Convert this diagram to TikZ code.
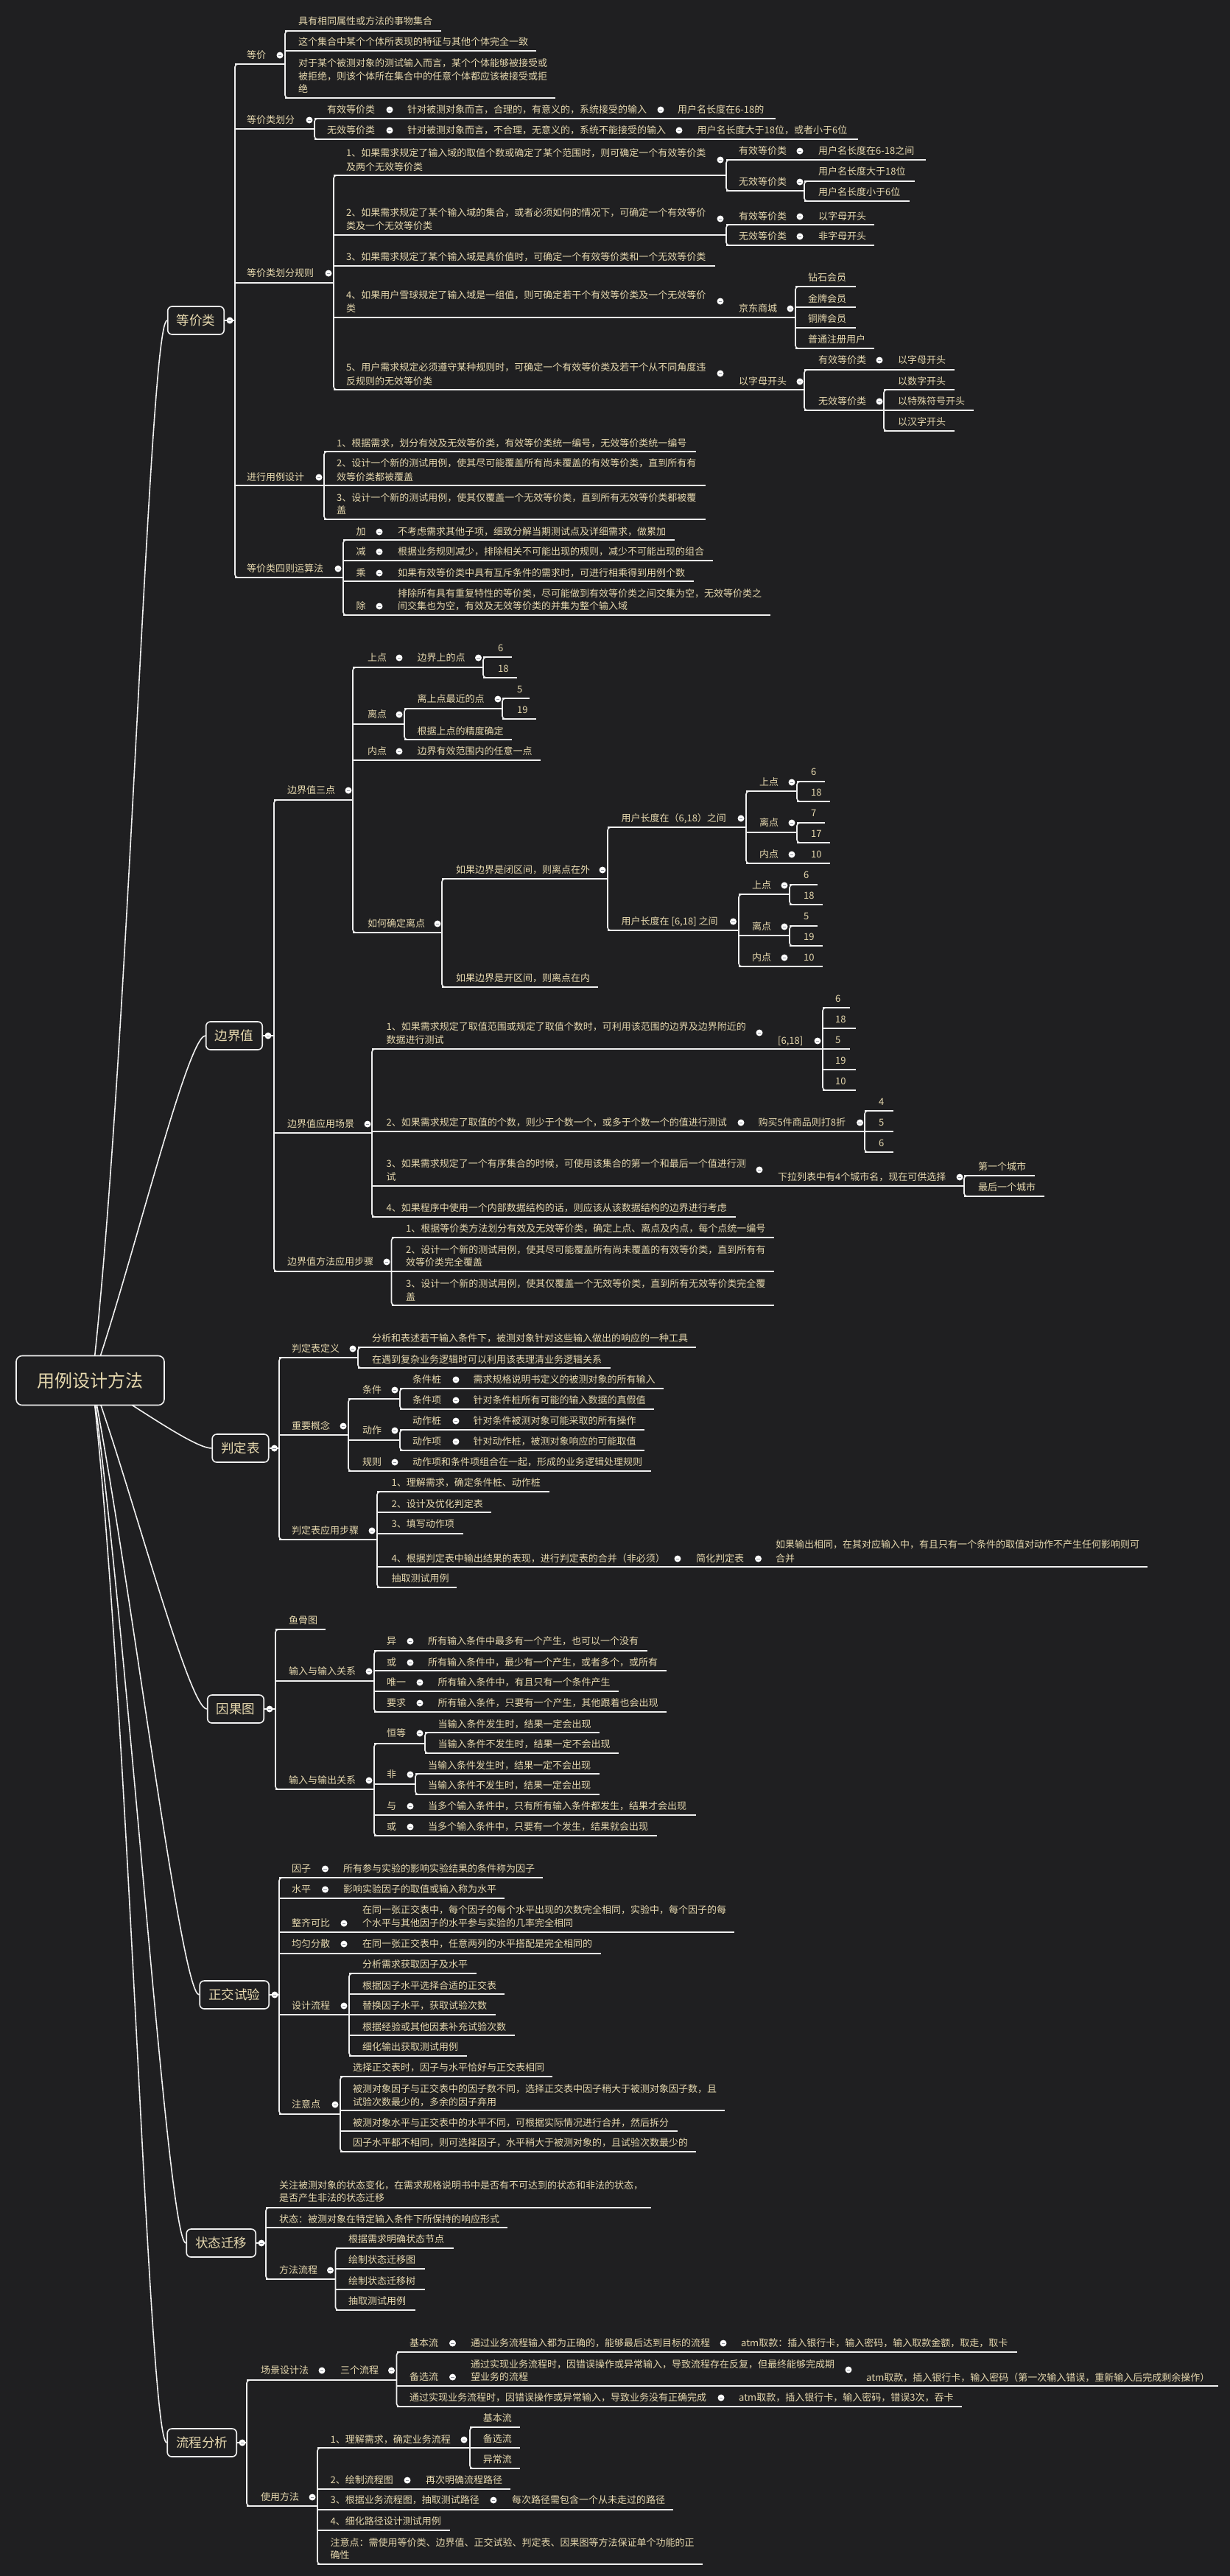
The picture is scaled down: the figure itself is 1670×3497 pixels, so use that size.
\documentclass[tikz,border=0pt]{standalone}
\usepackage{fontspec}
\setmainfont{Noto Sans CJK SC}
\usetikzlibrary{calc}
\definecolor{bg}{HTML}{1F1F21}
\definecolor{tc}{HTML}{E6D8AE}
\definecolor{lc}{HTML}{F0F0F0}
\definecolor{dm}{HTML}{8A8F99}
\tikzset{
  txt/.style={anchor=west, inner sep=0pt, text=tc, font=\fontsize{13}{16}\selectfont, text height=11.4pt, text depth=1.6pt},
  ln/.style={draw=lc, line width=1.6pt},
  box/.style={draw=lc, line width=1.6pt, rounded corners=6pt, anchor=east, inner xsep=12pt, minimum height=38pt, text=tc, fill=bg, font=\fontsize{17.5}{20}\selectfont},
  rootbox/.style={draw=lc!85, line width=1.6pt, rounded corners=8pt, minimum width=201pt, minimum height=67pt, text=tc, fill=bg, font=\fontsize{24}{28}\selectfont},
  dotmk/.style={draw=dm, line width=1pt}
}
\newcounter{nn}
\newcommand\N[3]{\stepcounter{nn}\node[txt] (t\arabic{nn}) at (#1,#2) {#3};}
\newcommand\U[3]{\draw[ln] (#1,#3) -- (#2,#3);}
\newcommand\B[3]{\draw[ln,rounded corners=4pt] (#1+10,#2) -- (#1,#2) -- (#1,#3) -- (#1+10,#3);}
\newcommand\D[2]{\fill[white] (#1,#2) circle (4.5pt); \draw[dotmk] (#1-2.2,#2) -- (#1+2.2,#2);}
\begin{document}
\begin{tikzpicture}[x=1pt,y=-1pt]
\useasboundingbox (0,0) rectangle (1670,3497);
\fill[bg] (0,0) rectangle (1670,3497);

% ---------- level-1 boxes, root and curves ----------
\node[box] (b1) at (305,435) {等价类};
\node[box] (b2) at (357,1406) {边界值};
\node[box] (b3) at (365.5,1966) {判定表};
\node[box] (b4) at (359,2320) {因果图};
\node[box] (b5) at (366,2708) {正交试验};
\node[box] (b6) at (348,3045) {状态迁移};
\node[box] (b7) at (322,3316) {流程分析};
\coordinate (rc) at (125,1874);
\draw[ln] (rc) .. controls (175,1442) and ($(b1.west)+(-25,0)$) .. (b1.west);
\draw[ln] (rc) .. controls (175,1734) and ($(b2.west)+(-25,0)$) .. (b2.west);
\draw[ln] (rc) .. controls (175,1902) and ($(b3.west)+(-25,0)$) .. (b3.west);
\draw[ln] (rc) .. controls (175,2008) and ($(b4.west)+(-25,0)$) .. (b4.west);
\draw[ln] (rc) .. controls (175,2124) and ($(b5.west)+(-25,0)$) .. (b5.west);
\draw[ln] (rc) .. controls (175,2225) and ($(b6.west)+(-25,0)$) .. (b6.west);
\draw[ln] (rc) .. controls (175,2307) and ($(b7.west)+(-25,0)$) .. (b7.west);
\node[rootbox] (root) at (122.5,1874) {用例设计方法};
\draw[ln] (b1.east) -- (319,435); \D{312}{435}
\draw[ln] (b2.east) -- (372,1406); \D{364}{1406}
\draw[ln] (b3.east) -- (379,1966); \D{372.5}{1966}
\draw[ln] (b4.east) -- (374,2320); \D{366}{2320}
\draw[ln] (b5.east) -- (379,2708); \D{373}{2708}
\draw[ln] (b6.east) -- (361,3045); \D{355}{3045}
\draw[ln] (b7.east) -- (335,3316); \D{329}{3316}

% ================= 等价类 =================
\B{319}{87}{784}
\N{335}{75}{等价} \U{319}{387}{87} \D{380}{75}
\B{387}{42}{133}
\N{405}{29}{具有相同属性或方法的事物集合} \U{387}{599}{42}
\N{405}{57}{这个集合中某个个体所表现的特征与其他个体完全一致} \U{387}{728}{69}
\N{405}{86}{对于某个被测对象的测试输入而言，某个个体能够被接受或}
\N{405}{104}{被拒绝，则该个体所在集合中的任意个体都应该被接受或拒}
\N{405}{121}{绝} \U{387}{754}{133}

\N{335}{163}{等价类划分} \U{319}{427}{175} \D{420}{163}
\B{427}{161}{189}
\N{444}{149}{有效等价类} \D{529}{149} \N{553}{149}{针对被测对象而言，合理的，有意义的，系统接受的输入} \D{897}{149} \N{920}{149}{用户名长度在6-18的} \U{427}{1053}{161}
\N{444}{177}{无效等价类} \D{529}{177} \N{553}{177}{针对被测对象而言，不合理，无意义的，系统不能接受的输入} \D{922}{177} \N{946.5}{177}{用户名长度大于18位，或者小于6位} \U{427}{1165}{189}

\N{335}{371}{等价类划分规则} \U{319}{453}{384} \D{446}{371}
\B{453}{238}{529}
\N{470}{208}{1、如果需求规定了输入域的取值个数或确定了某个范围时，则可确定一个有效等价类}
\N{470}{227}{及两个无效等价类} \U{453}{986}{238} \D{978}{217}
\B{986}{217}{259}
\N{1003}{205}{有效等价类} \D{1086}{205} \N{1111}{205}{用户名长度在6-18之间} \U{986}{1257}{217}
\N{1003}{247}{无效等价类} \D{1086}{247} \U{986}{1092}{259}
\B{1092}{246}{273}
\N{1111}{233}{用户名长度大于18位} \U{1092}{1242}{246}
\N{1111}{261}{用户名长度小于6位} \U{1092}{1235}{273}

\N{470}{289}{2、如果需求规定了某个输入域的集合，或者必须如何的情况下，可确定一个有效等价}
\N{470}{307}{类及一个无效等价类} \U{453}{986}{319} \D{978}{297}
\B{986}{305}{333}
\N{1003}{294}{有效等价类} \D{1086}{294} \N{1111}{294}{以字母开头} \U{986}{1187}{305}
\N{1003}{321}{无效等价类} \D{1086}{321} \N{1111}{321}{非字母开头} \U{986}{1187}{333}

\N{470}{349}{3、如果需求规定了某个输入域是真价值时，可确定一个有效等价类和一个无效等价类} \U{453}{971}{361}

\N{470}{401}{4、如果用户雪球规定了输入域是一组值，则可确定若干个有效等价类及一个无效等价}
\N{470}{419}{类} \D{978}{409}
\N{1003}{419}{京东商城} \D{1073}{419} \U{453}{1080}{431}
\B{1080}{389}{473}
\N{1097}{377}{钻石会员} \U{1080}{1162}{389}
\N{1097}{406}{金牌会员} \U{1080}{1162}{417}
\N{1097}{433}{铜牌会员} \U{1080}{1162}{445}
\N{1097}{461}{普通注册用户} \U{1080}{1187}{473}

\N{470}{499}{5、用户需求规定必须遵守某种规则时，可确定一个有效等价类及若干个从不同角度违}
\N{470}{518}{反规则的无效等价类} \D{978}{507}
\N{1003}{518}{以字母开头} \D{1086}{518} \U{453}{1092}{529}
\B{1092}{502}{557}
\N{1111}{489}{有效等价类} \D{1194}{489} \N{1219}{489}{以字母开头} \U{1092}{1296}{502}
\N{1111}{545}{无效等价类} \D{1194}{545} \U{1092}{1200}{557}
\B{1200}{529}{585}
\N{1219}{518}{以数字开头} \U{1200}{1296}{529}
\N{1219}{545}{以特殊符号开头} \U{1200}{1322}{557}
\N{1219}{573}{以汉字开头} \U{1200}{1296}{585}

\N{335}{648}{进行用例设计} \U{319}{440}{659} \D{433}{648}
\B{440}{613}{705}
\N{457}{602}{1、根据需求，划分有效及无效等价类，有效等价类统一编号，无效等价类统一编号} \U{440}{945}{613}
\N{457}{629}{2、设计一个新的测试用例，使其尽可能覆盖所有尚未覆盖的有效等价类，直到所有有}
\N{457}{648}{效等价类都被覆盖} \U{440}{958}{659}
\N{457}{676}{3、设计一个新的测试用例，使其仅覆盖一个无效等价类，直到所有无效等价类都被覆}
\N{457}{693}{盖} \U{440}{958}{705}

\N{335}{772}{等价类四则运算法} \U{319}{466}{784} \D{459}{772}
\B{466}{733}{835}
\N{483.5}{722}{加} \D{515}{722} \N{540}{722}{不考虑需求其他子项，细致分解当期测试点及详细需求，做累加} \U{466}{916}{733}
\N{483.5}{749}{减} \D{515}{749} \N{540}{749}{根据业务规则减少，排除相关不可能出现的规则，减少不可能出现的组合} \U{466}{968}{761}
\N{483.5}{778}{乘} \D{515}{778} \N{540}{778}{如果有效等价类中具有互斥条件的需求时，可进行相乘得到用例个数} \U{466}{942}{789}
\N{483.5}{823}{除} \D{515}{823}
\N{540}{806}{排除所有具有重复特性的等价类，尽可能做到有效等价类之间交集为空，无效等价类之}
\N{540}{823}{间交集也为空，有效及无效等价类的并集为整个输入域} \U{466}{1046}{835}

% ================= 边界值 =================
\B{372}{1086}{1726}
\N{390}{1073}{边界值三点} \D{473}{1073} \U{372}{479}{1086}
\B{479}{906}{1266}
\N{499}{893}{上点} \D{542}{893} \N{566.5}{893}{边界上的点} \D{649.5}{893} \U{479}{656}{906}
\B{656}{892}{920}
\N{676}{880}{6} \U{656}{695}{892}
\N{676}{908}{18} \U{656}{702}{920}
\N{499}{970}{离点} \D{542}{970} \U{479}{549}{983}
\B{549}{962}{1004}
\N{566.5}{949}{离上点最近的点} \D{676}{949} \U{549}{682}{962}
\B{682}{948}{976}
\N{702}{936}{5} \U{682}{719}{948}
\N{702}{964}{19} \U{682}{728}{976}
\N{566.5}{993}{根据上点的精度确定} \U{549}{695}{1004}
\N{499}{1020}{内点} \D{542}{1020} \N{566.5}{1020}{边界有效范围内的任意一点} \U{479}{734}{1032}
\N{499}{1254}{如何确定离点} \D{594}{1254} \U{479}{600}{1266}
\B{600}{1193}{1340}
\N{619}{1181}{如果边界是闭区间，则离点在外} \D{818}{1181} \U{600}{825}{1193}
\B{825}{1123}{1263}
\N{843.5}{1111}{用户长度在（6,18）之间} \D{1006}{1111} \U{825}{1013}{1123}
\B{1013}{1074}{1172}
\N{1031}{1062}{上点} \D{1075}{1062} \U{1013}{1082}{1074}
\B{1082}{1061}{1088}
\N{1101}{1048}{6} \U{1082}{1120}{1061}
\N{1101}{1076}{18} \U{1082}{1127}{1088}
\N{1031}{1117}{离点} \D{1075}{1117} \U{1013}{1082}{1130}
\B{1082}{1117}{1144}
\N{1101}{1104}{7} \U{1082}{1120}{1117}
\N{1101}{1132}{17} \U{1082}{1127}{1144}
\N{1031}{1160}{内点} \D{1075}{1160} \N{1101}{1160}{10} \U{1013}{1127}{1172}
\N{843.5}{1251}{用户长度在 [6,18] 之间} \D{995.5}{1251} \U{825}{1003}{1263}
\B{1003}{1214}{1312}
\N{1021}{1202}{上点} \D{1065}{1202} \U{1003}{1072}{1214}
\B{1072}{1201}{1228}
\N{1091}{1188}{6} \U{1072}{1110}{1201}
\N{1091}{1216}{18} \U{1072}{1117}{1228}
\N{1021}{1258}{离点} \D{1065}{1258} \U{1003}{1072}{1270}
\B{1072}{1257}{1284}
\N{1091}{1244}{5} \U{1072}{1110}{1257}
\N{1091}{1272}{19} \U{1072}{1117}{1284}
\N{1021}{1300}{内点} \D{1065}{1300} \N{1091}{1300}{10} \U{1003}{1117}{1312}
\N{619}{1328}{如果边界是开区间，则离点在内} \U{600}{812}{1340}

\N{390}{1526}{边界值应用场景} \D{499}{1526} \U{372}{505}{1538}
\B{505}{1424}{1652}
\N{524.5}{1394}{1、如果需求规定了取值范围或规定了取值个数时，可利用该范围的边界及边界附近的}
\N{524.5}{1412}{数据进行测试} \D{1031}{1402} \N{1056}{1413}{[6,18]} \D{1110}{1413} \U{505}{1117}{1424}
\B{1117}{1368}{1480}
\N{1134}{1356}{6} \U{1117}{1154}{1368}
\N{1134}{1384}{18} \U{1117}{1162}{1396}
\N{1134}{1412}{5} \U{1117}{1154}{1424}
\N{1134}{1440}{19} \U{1117}{1162}{1452}
\N{1134}{1468}{10} \U{1117}{1162}{1480}
\N{524.5}{1524}{2、如果需求规定了取值的个数，则少于个数一个，或多于个数一个的值进行测试} \D{1006}{1524} \N{1029.5}{1524}{购买5件商品则打8折} \D{1167.6}{1524} \U{505}{1174}{1536}
\B{1174}{1508}{1564}
\N{1193}{1496}{4} \U{1174}{1213}{1508}
\N{1193}{1524}{5} \U{1174}{1213}{1536}
\N{1193}{1552}{6} \U{1174}{1213}{1564}
\N{524.5}{1580}{3、如果需求规定了一个有序集合的时候，可使用该集合的第一个和最后一个值进行测}
\N{524.5}{1598}{试} \D{1031}{1588} \N{1056}{1598}{下拉列表中有4个城市名，现在可供选择} \D{1303}{1598} \U{505}{1309}{1610}
\B{1309}{1596}{1624}
\N{1328}{1584}{第一个城市} \U{1309}{1405}{1596}
\N{1328}{1612}{最后一个城市} \U{1309}{1418}{1624}
\N{524.5}{1640}{4、如果程序中使用一个内部数据结构的话，则应该从该数据结构的边界进行考虑} \U{505}{999}{1652}

\N{390}{1713}{边界值方法应用步骤} \D{525}{1713} \U{372}{531.5}{1726}
\B{531.5}{1680}{1772}
\N{551}{1668}{1、根据等价类方法划分有效及无效等价类，确定上点、离点及内点，每个点统一编号} \U{531.5}{1051}{1680}
\N{551}{1697}{2、设计一个新的测试用例，使其尽可能覆盖所有尚未覆盖的有效等价类，直到所有有}
\N{551}{1714}{效等价类完全覆盖} \U{531.5}{1051}{1726}
\N{551}{1743}{3、设计一个新的测试用例，使其仅覆盖一个无效等价类，直到所有无效等价类完全覆}
\N{551}{1761}{盖} \U{531.5}{1051}{1772}

% ================= 判定表 =================
\B{379}{1843}{2090}
\N{396}{1831}{判定表定义} \D{479}{1831} \U{379}{486}{1843}
\B{486}{1829}{1857}
\N{505}{1817}{分析和表述若干输入条件下，被测对象针对这些输入做出的响应的一种工具} \U{486}{945}{1829}
\N{505}{1846}{在遇到复杂业务逻辑时可以利用该表理清业务逻辑关系} \U{486}{828.6}{1857}
\N{396}{1936}{重要概念} \D{466}{1936} \U{379}{473}{1948}
\B{473}{1899}{1997}
\N{492}{1887}{条件} \D{536}{1887} \U{473}{543}{1899}
\B{543}{1885}{1913}
\N{560}{1873}{条件桩} \D{619}{1873} \N{642.5}{1873}{需求规格说明书定义的被测对象的所有输入} \U{543}{901}{1885}
\N{560}{1901}{条件项} \D{619}{1901} \N{642.5}{1901}{针对条件桩所有可能的输入数据的真假值} \U{543}{888}{1913}
\N{492}{1942}{动作} \D{536}{1942} \U{473}{543}{1955}
\B{543}{1941}{1969}
\N{560}{1929}{动作桩} \D{619}{1929} \N{642.5}{1929}{针对条件被测对象可能采取的所有操作} \U{543}{875}{1941}
\N{560}{1957}{动作项} \D{619}{1957} \N{642.5}{1957}{针对动作桩，被测对象响应的可能取值} \U{543}{875}{1969}
\N{492}{1985}{规则} \D{536}{1985} \N{560}{1985}{动作项和条件项组合在一起，形成的业务逻辑处理规则} \U{473}{884}{1997}
\N{396}{2078}{判定表应用步骤} \D{505}{2078} \U{379}{512}{2090}
\B{512}{2025}{2155}
\N{531.5}{2013}{1、理解需求，确定条件桩、动作桩} \U{512}{745.6}{2025}
\N{531.5}{2042}{2、设计及优化判定表} \U{512}{667}{2053}
\N{531.5}{2069}{3、填写动作项} \U{512}{628.5}{2082}
\N{531.5}{2116}{4、根据判定表中输出结果的表现，进行判定表的合并（非必须）} \D{920}{2116} \N{945}{2116}{简化判定表} \D{1029.5}{2116}
\N{1053}{2097}{如果输出相同，在其对应输入中，有且只有一个条件的取值对动作不产生任何影响则可}
\N{1053}{2116}{合并} \U{512}{1558}{2127}
\N{531.5}{2143}{抽取测试用例} \U{512}{620}{2155}

% ================= 因果图 =================
\B{374}{2212}{2429}
\N{392}{2200}{鱼骨图} \U{374}{442}{2212}
\N{392}{2269}{输入与输入关系} \D{501}{2269} \U{374}{508}{2282}
\B{508}{2241}{2324}
\N{525}{2228}{异} \D{557}{2228} \N{581}{2228}{所有输入条件中最多有一个产生，也可以一个没有} \U{508}{879}{2241}
\N{525}{2257}{或} \D{557}{2257} \N{581}{2257}{所有输入条件中，最少有一个产生，或者多个，或所有} \U{508}{905}{2268}
\N{525}{2284}{唯一} \D{570}{2284} \N{594.5}{2284}{所有输入条件中，有且只有一个条件产生} \U{508}{840}{2296}
\N{525}{2312}{要求} \D{570}{2312} \N{594.5}{2312}{所有输入条件，只要有一个产生，其他跟着也会出现} \U{508}{905}{2324}
\N{392}{2417}{输入与输出关系} \D{501}{2417} \U{374}{508}{2429}
\B{508}{2367}{2492}
\N{525}{2353}{恒等} \D{570}{2353} \U{508}{577}{2367}
\B{577}{2352}{2380}
\N{594.5}{2341}{当输入条件发生时，结果一定会出现} \U{577}{814}{2352}
\N{594.5}{2368}{当输入条件不发生时，结果一定不会出现} \U{577}{840}{2380}
\N{525}{2409}{非} \D{557}{2409} \U{508}{564}{2422}
\B{564}{2408}{2436}
\N{581}{2397}{当输入条件发生时，结果一定不会出现} \U{564}{814}{2408}
\N{581}{2424}{当输入条件不发生时，结果一定会出现} \U{564}{814}{2436}
\N{525}{2452}{与} \D{557}{2452} \N{581}{2452}{当多个输入条件中，只有所有输入条件都发生，结果才会出现} \U{508}{945}{2464}
\N{525}{2480}{或} \D{557}{2480} \N{581}{2480}{当多个输入条件中，只要有一个发生，结果就会出现} \U{508}{892}{2492}

% ================= 正交试验 =================
\B{379}{2549}{2870}
\N{396}{2537}{因子} \D{441.5}{2537} \N{466}{2537}{所有参与实验的影响实验结果的条件称为因子} \U{379}{737}{2549}
\N{396}{2565}{水平} \D{441.5}{2565} \N{466}{2565}{影响实验因子的取值或输入称为水平} \U{379}{685}{2577}
\N{396}{2611}{整齐可比} \D{467}{2611}
\N{492}{2593}{在同一张正交表中，每个因子的每个水平出现的次数完全相同，实验中，每个因子的每}
\N{492}{2611}{个水平与其他因子的水平参与实验的几率完全相同} \U{379}{997}{2623}
\N{396}{2639}{均匀分散} \D{467}{2639} \N{492}{2639}{在同一张正交表中，任意两列的水平搭配是完全相同的} \U{379}{815.5}{2652}
\N{396}{2723}{设计流程} \D{467}{2723} \U{379}{474}{2735}
\B{474}{2679}{2791}
\N{492}{2667}{分析需求获取因子及水平} \U{474}{647}{2679}
\N{492}{2696}{根据因子水平选择合适的正交表} \U{474}{685}{2707}
\N{492}{2723}{替换因子水平，获取试验次数} \U{474}{673}{2735}
\N{492}{2752}{根据经验或其他因素补充试验次数} \U{474}{699}{2763}
\N{492}{2779}{细化输出获取测试用例} \U{474}{634}{2791}
\N{396}{2857}{注意点} \D{455}{2857} \U{379}{462}{2870}
\B{462}{2819}{2921}
\N{479}{2807}{选择正交表时，因子与水平恰好与正交表相同} \U{462}{750}{2819}
\N{479}{2836}{被测对象因子与正交表中的因子数不同，选择正交表中因子稍大于被测对象因子数，且}
\N{479}{2854}{试验次数最少的，多余的因子弃用} \U{462}{984}{2865}
\N{479}{2882}{被测对象水平与正交表中的水平不同，可根据实际情况进行合并，然后拆分} \U{462}{920}{2893}
\N{479}{2909}{因子水平都不相同，则可选择因子，水平稍大于被测对象的，且试验次数最少的} \U{462}{945}{2921}

% ================= 状态迁移 =================
\B{361}{2997}{3094}
\N{379}{2967}{关注被测对象的状态变化，在需求规格说明书中是否有不可达到的状态和非法的状态，}
\N{379}{2984}{是否产生非法的状态迁移} \U{361}{884}{2997}
\N{379}{3013}{状态：被测对象在特定输入条件下所保持的响应形式} \U{361}{689}{3024}
\N{379}{3082}{方法流程} \D{448.5}{3082} \U{361}{455.5}{3094}
\B{455.5}{3052}{3136}
\N{473}{3040}{根据需求明确状态节点} \U{455.5}{616}{3052}
\N{473}{3068}{绘制状态迁移图} \U{455.5}{577}{3080}
\N{473}{3097}{绘制状态迁移树} \U{455.5}{577}{3108}
\N{473}{3124}{抽取测试用例} \U{455.5}{564}{3136}

% ================= 流程分析 =================
\B{335}{3231}{3402}
\N{354}{3218}{场景设计法} \D{437}{3218} \N{462}{3218}{三个流程} \D{531.5}{3218} \U{335}{538.5}{3231}
\B{538.5}{3193}{3267}
\N{556}{3181}{基本流} \D{614.5}{3181} \N{639}{3181}{通过业务流程输入都为正确的，能够最后达到目标的流程} \D{982}{3181} \N{1006}{3181}{atm取款：插入银行卡，输入密码，输入取款金额，取走，取卡} \U{538.5}{1381}{3193}
\N{556}{3227}{备选流} \D{614.5}{3227}
\N{639}{3210}{通过实现业务流程时，因错误操作或异常输入，导致流程存在反复，但最终能够完成期}
\N{639}{3227}{望业务的流程} \D{1152}{3217} \N{1176}{3228}{atm取款，插入银行卡，输入密码（第一次输入错误，重新输入后完成剩余操作）} \U{538.5}{1654}{3239}
\N{556}{3255}{通过实现业务流程时，因错误操作或异常输入，导致业务没有正确完成} \D{979}{3255} \N{1003}{3255}{atm取款，插入银行卡，输入密码，错误3次，吞卡} \U{538.5}{1306}{3267}
\N{354}{3390}{使用方法} \D{424}{3390} \U{335}{431}{3402}
\B{431}{3323}{3481}
\N{448.5}{3312}{1、理解需求，确定业务流程} \D{630}{3312} \U{431}{638}{3323}
\B{638}{3295}{3351}
\N{655.6}{3283}{基本流} \U{638}{706}{3295}
\N{655.6}{3311}{备选流} \U{638}{706}{3323}
\N{655.6}{3339}{异常流} \U{638}{706}{3351}
\N{448.5}{3367}{2、绘制流程图} \D{553}{3367} \N{578}{3367}{再次明确流程路径} \U{431}{693}{3379}
\N{448.5}{3394}{3、根据业务流程图，抽取测试路径} \D{670}{3394} \N{695}{3394}{每次路径需包含一个从未走过的路径} \U{431}{914}{3407}
\N{448.5}{3423}{4、细化路径设计测试用例} \U{431}{611}{3435}
\N{448.5}{3452}{注意点：需使用等价类、边界值、正交试验、判定表、因果图等方法保证单个功能的正}
\N{448.5}{3469}{确性} \U{431}{953.5}{3481}
\end{tikzpicture}
\end{document}
